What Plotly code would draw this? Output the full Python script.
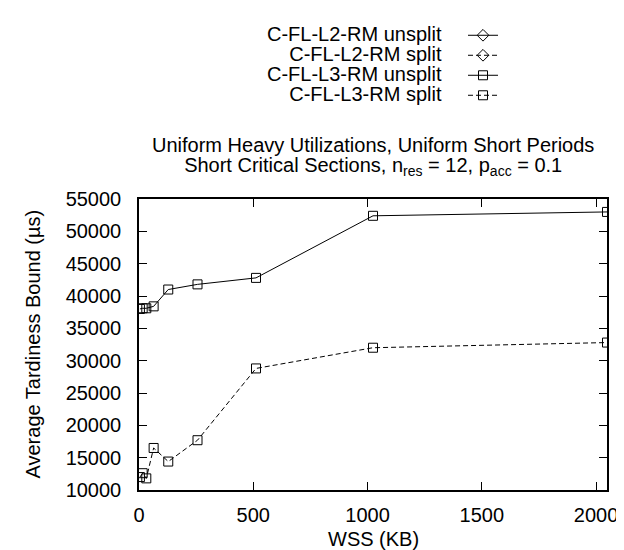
import plotly.graph_objects as go

# Data
wss = [4, 16, 32, 64, 128, 256, 512, 1024, 2048]
l3_unsplit = [38000, 38100, 38100, 38400, 41000, 41800, 42800, 52400, 53000]
l3_split = [12000, 12600, 11800, 16500, 14400, 17700, 28800, 32000, 32800]
l2_unsplit = [None] * len(wss)
l2_split = [None] * len(wss)

names = ["C-FL-L2-RM unsplit", "C-FL-L2-RM split", "C-FL-L3-RM unsplit", "C-FL-L3-RM split"]
title_lines = ["Uniform Heavy Utilizations, Uniform Short Periods",
               "Short Critical Sections, n<sub>res</sub> = 12, p<sub>acc</sub> = 0.1"]
x_title = "WSS (KB)"
y_title = "Average Tardiness Bound (µs)"

FONT = "Liberation Sans, Arial, Helvetica, sans-serif"
FS = 20
DASH = "5px,3px"
PITCH = 20  # legend row pitch in px

# plot box in pixels
L, R, T, B = 131, 599, 182, 482
W, H = 624, 550
PW, PH = R - L, B - T


def px_x(px):
    return (px - L) / PW


def px_y(py):
    return (B - py) / PH


fig = go.Figure()
series = [
    (l2_unsplit, "solid", "diamond-open"),
    (l2_split, DASH, "diamond-open"),
    (l3_unsplit, "solid", "square-open"),
    (l3_split, DASH, "square-open"),
]
for (ys, dash, sym), nm in zip(series, names):
    fig.add_trace(go.Scatter(
        x=wss, y=ys, mode="lines+markers", name=" ", legendgroup=nm,
        line=dict(color="black", width=1, dash=dash),
        marker=dict(symbol=sym, size=9, color="black", line=dict(width=1, color="black")),
        connectgaps=False,
    ))


def big(s):
    return "<span style='font-size:%dpx'>%s</span>" % (FS, s)


ann = []
# legend labels (text left of samples, like gnuplot) - one text block
ann.append(dict(text="<br>".join(big(n) for n in names), xref="paper", yref="paper",
                x=px_x(436), y=px_y(42.75), xanchor="right", yanchor="middle", align="right",
                showarrow=False, font=dict(family=FONT, size=PITCH / 1.3, color="black")))
# title (two tight lines)
ann.append(dict(text="<br>".join(big(t) for t in title_lines), xref="paper", yref="paper",
                x=0.5, y=px_y(138), xanchor="center", yanchor="middle", align="center",
                showarrow=False, font=dict(family=FONT, size=20 / 1.3, color="black")))
# axis titles
ann.append(dict(text=x_title, xref="paper", yref="paper", x=0.5, y=px_y(533),
                xanchor="center", yanchor="middle", showarrow=False,
                font=dict(family=FONT, size=FS, color="black")))
ann.append(dict(text=y_title, xref="paper", yref="paper", x=px_x(24), y=0.5, textangle=-90,
                xanchor="center", yanchor="middle", showarrow=False,
                font=dict(family=FONT, size=FS, color="black")))

axis_common = dict(
    showline=True, linecolor="black", linewidth=1.5, mirror="ticks",
    ticks="inside", ticklen=8, tickwidth=1, tickcolor="black",
    showgrid=False, zeroline=False, tickformat="d",
    tickfont=dict(family=FONT, size=FS, color="black"),
)

fig.update_layout(
    width=W, height=H,
    margin=dict(l=L, r=W - R, t=T, b=H - B),
    paper_bgcolor="white", plot_bgcolor="white",
    showlegend=True,
    legend=dict(x=px_x(455), y=px_y(-2.25), xanchor="left", yanchor="top",
                bgcolor="rgba(0,0,0,0)", borderwidth=0,
                font=dict(family=FONT, size=(PITCH - 3) / 1.3, color="black"),
                tracegroupgap=0, itemwidth=30),
    annotations=ann,
    xaxis=dict(range=[0, 2048], tick0=0, dtick=500, ticklabelstandoff=6, **axis_common),
    yaxis=dict(range=[10000, 55000], tick0=10000, dtick=5000, ticklabelstandoff=12, **axis_common),
)

fig.write_html("out.html")
